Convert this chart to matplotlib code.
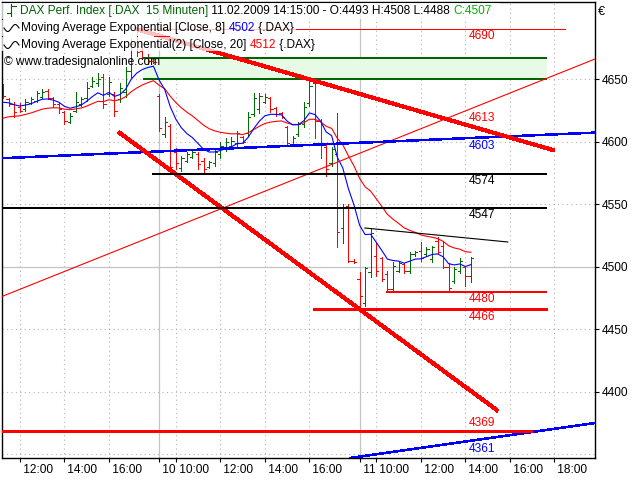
import numpy as np
import matplotlib
matplotlib.use("Agg")
import matplotlib.pyplot as plt
from matplotlib.lines import Line2D
from matplotlib.patches import Rectangle
from matplotlib.text import Annotation

plt.rcParams['font.family'] = ['Liberation Sans', 'DejaVu Sans']

# x axis in session hours: 09.02. 09:00 = 0, one session = 9 h (09:00-18:00)
# 15 minute bars, first bar 09.02. 11:15, last bar 11.02. 14:15
first_bar = 2.25
bar_step = 0.25

opens = [4645, 4634, 4630, 4628, 4626, 4631, 4633, 4636, 4641, 4635, 4630, 4624, 4616, 4625,
         4630, 4635, 4645, 4647, 4652, 4638, 4638, 4634, 4640, 4657, 4680, 4673, 4668, 4665,
         4637, 4606, 4613, 4592, 4579, 4585, 4588, 4590, 4585, 4580, 4583, 4590, 4596, 4597,
         4599, 4604, 4607, 4622, 4626, 4632, 4635, 4627, 4623, 4612, 4598, 4606, 4614, 4631,
         4647, 4617, 4596, 4583, 4590, 4531, 4549, 4505,
         4490, 4471, 4496, 4509, 4507, 4494, 4482, 4497, 4502, 4497, 4510, 4513, 4510, 4506,
         4521, 4517, 4500, 4489, 4497, 4500, 4493]
highs = [4646, 4635, 4632, 4631, 4634, 4636, 4641, 4642, 4642, 4636, 4631, 4625, 4623, 4640,
         4636, 4648, 4652, 4655, 4654, 4652, 4640, 4647, 4660, 4682, 4690, 4675, 4670, 4666,
         4638, 4620, 4614, 4595, 4589, 4592, 4594, 4592, 4587, 4585, 4595, 4600, 4603, 4604,
         4609, 4605, 4624, 4639, 4639, 4638, 4636, 4628, 4624, 4613, 4605, 4616, 4632, 4650,
         4650, 4618, 4599, 4596, 4623, 4550, 4550, 4506,
         4496, 4500, 4531, 4520, 4508, 4497, 4504, 4504, 4503, 4512, 4513, 4520, 4516, 4517,
         4524, 4521, 4503, 4500, 4507, 4501, 4508]
lows = [4635, 4629, 4620, 4624, 4625, 4630, 4632, 4635, 4634, 4628, 4623, 4614, 4615, 4624,
        4629, 4633, 4644, 4645, 4627, 4637, 4621, 4632, 4636, 4652, 4669, 4666, 4662, 4663,
        4609, 4604, 4578, 4578, 4577, 4584, 4587, 4578, 4574, 4579, 4581, 4587, 4593, 4596,
        4597, 4599, 4605, 4621, 4623, 4631, 4624, 4621, 4619, 4597, 4597, 4605, 4612, 4629,
        4603, 4587, 4573, 4581, 4516, 4519, 4504, 4503,
        4466, 4469, 4492, 4493, 4489, 4480, 4480, 4496, 4495, 4495, 4509, 4505, 4509, 4504,
        4511, 4499, 4480, 4487, 4495, 4485, 4488]
closes = [4637, 4630, 4624, 4625, 4632, 4634, 4639, 4640, 4635, 4630, 4626, 4617, 4621, 4632,
          4634, 4643, 4649, 4650, 4630, 4648, 4625, 4643, 4657, 4678, 4672, 4668, 4665, 4664,
          4611, 4616, 4580, 4583, 4587, 4590, 4592, 4582, 4578, 4584, 4592, 4597, 4600, 4601,
          4607, 4600, 4620, 4635, 4637, 4636, 4626, 4622, 4620, 4599, 4603, 4614, 4628, 4645,
          4617, 4598, 4578, 4594, 4528, 4548, 4505, 4504,
          4477, 4499, 4527, 4497, 4490, 4482, 4501, 4503, 4497, 4510, 4512, 4507, 4514, 4516,
          4512, 4500, 4483, 4498, 4505, 4493, 4507]

# EMA values just before the first visible bar
ema8_start = 4630
ema20_start = 4617

# x ticks
tick_pos = [3, 5, 7, 9.25, 10, 12, 14, 16, 18.25, 19, 21, 23, 25, 27]
tick_lab = ['12:00', '14:00', '16:00', '10', '10:00', '12:00', '14:00', '16:00',
            '11', '10:00', '12:00', '14:00', '16:00', '18:00']
day_starts = [9.25, 18.25]
y_ticks = [4400, 4450, 4500, 4550, 4600, 4650]
y_grid = [4350, 4400, 4450, 4550, 4600, 4650]

# drawing tools (time, price)
resist_box = [8.53, 26.66, 4650, 4667]
lvl_4690 = [8.26, 27.47, 4690]
lvl_4574 = [8.93, 26.66, 4574]
lvl_4547 = [2.0, 26.66, 4547]
lvl_4480 = [19.43, 26.66, 4480]
lvl_4466 = [16.15, 26.66, 4466]
lvl_4369 = [2.0, 25.98, 4369]
down_t, down_p = [8.26, 26.93], [4690, 4593.4]
down2_t, down2_p = [7.49, 24.41], [4607, 4385.4]
blue_t, blue_p = [2.155, 28.82], [4586.8, 4607.3]
up_t, up_p = [2.155, 28.82], [4475.9, 4666.2]
blue2_t, blue2_p = [17.82, 28.82], [4347, 4375]
black_t, black_p = [18.49, 24.91], [4531, 4519.8]

W, H = 640, 480
fig = plt.figure(figsize=(W / 100, H / 100), dpi=100)
ax = fig.add_axes([1.5 / W, 22 / H, 593.5 / W, 456 / H])
ax.set_xlim(2.178, 28.82)
ax.set_ylim(4347.0, 4711.8)

RED = '#ff0000'
GREEN = '#006e00'
BLUE = '#0000ff'
GRID = '#b4b4b4'
PX = 0.72   # one pixel, for the crisp (non antialiased) lines
THIN = 0.8

# grid
for tp in tick_pos:
    if tp in day_starts:
        ax.axvline(tp, color='#c4c4c4', lw=0.9, zorder=0.5)
    else:
        ax.axvline(tp, color=GRID, lw=THIN, ls=(0, (1, 3)), zorder=0.5)
for p in y_grid:
    ax.axhline(p, color=GRID, lw=THIN, ls=(0, (1, 3)), zorder=0.5)
ax.axhline(4500, color='#c4c4c4', lw=0.9, zorder=0.5)

# resistance zone
x0, x1, p0, p1 = resist_box
ax.add_patch(Rectangle((x0, p0), x1 - x0, p1 - p0, facecolor='#e6fae6', edgecolor='none', zorder=0.8))
ax.hlines([p0, p1], x0, x1, color='#006400', lw=1.1, zorder=3, antialiased=False)

# OHLC bars
o = np.array(opens, float)
hi = np.array(highs, float)
lo = np.array(lows, float)
c = np.array(closes, float)
t = first_bar + bar_step * np.arange(len(o))
cols = np.where(c >= o, GREEN, RED)
ax.vlines(t, lo, hi, colors=cols, lw=PX, zorder=2, antialiased=False)
ax.hlines(o, t - 0.1, t, colors=cols, lw=PX, zorder=2, antialiased=False)
ax.hlines(c, t, t + 0.1, colors=cols, lw=PX, zorder=2, antialiased=False)


def ema(values, period, start):
    k = 2.0 / (period + 1)
    out = []
    prev = start
    for v in values:
        prev = prev + k * (v - prev)
        out.append(prev)
    return np.array(out)


ax.plot(t, ema(c, 20, ema20_start), color=RED, lw=THIN, zorder=3)
ax.plot(t, ema(c, 8, ema8_start), color=BLUE, lw=THIN, zorder=3)

# lines
ax.plot(up_t, up_p, color=RED, lw=THIN, zorder=4)
ax.plot(blue_t, blue_p, color=BLUE, lw=1.1, zorder=4, antialiased=False)
ax.plot(blue2_t, blue2_p, color=BLUE, lw=1.1, zorder=4, antialiased=False)
ax.plot(black_t, black_p, color='black', lw=THIN, zorder=4)
ax.plot(down_t, down_p, color=RED, lw=2.2, zorder=4, antialiased=False)
ax.plot(down2_t, down2_p, color=RED, lw=2.2, zorder=4, antialiased=False)
for lv, lw_, col in [(lvl_4690, PX, RED), (lvl_4574, 1.1, 'black'), (lvl_4547, 1.1, 'black'),
                     (lvl_4480, 1.4, RED), (lvl_4466, 2.1, RED), (lvl_4369, 2.1, RED)]:
    ax.hlines(lv[2], lv[0], lv[1], color=col, lw=lw_, zorder=4, antialiased=False)

# value labels at the last bar
t_lab = t[-1] - 0.08
labels = [('4690', lvl_4690[2], -7, RED),
          ('4613', np.interp(t_lab, down_t, down_p), 8, RED),
          ('4603', np.interp(t_lab, blue_t, blue_p), -8, BLUE),
          ('4574', lvl_4574[2], -7, 'black'),
          ('4547', lvl_4547[2], -7, 'black'),
          ('4480', lvl_4480[2], -7, RED),
          ('4466', lvl_4466[2], -8, RED),
          ('4369', lvl_4369[2], 7, RED),
          ('4361', np.interp(t_lab, blue2_t, blue2_p), -8, BLUE)]
for s, p, dy, col in labels:
    ax.annotate(s, xy=(t_lab, p), xytext=(0, dy), textcoords='offset pixels',
                ha='left', va='center', color=col, fontsize=8.6, zorder=5)

# axes styling
for sp in ax.spines.values():
    sp.set_linewidth(1.0)
    sp.set_color('black')
ax.yaxis.tick_right()
ax.set_yticks(y_ticks)
ax.set_yticklabels([str(v) for v in y_ticks])
ax.set_xticks(tick_pos)
ax.set_xticklabels([' ' + s for s in tick_lab])
for lab in ax.get_xticklabels():
    lab.set_ha('left')
ax.tick_params(axis='y', length=3, width=0.8, pad=2, labelsize=8.6)
ax.tick_params(axis='x', length=3, width=0.8, pad=1.5, labelsize=8.6)
fig.text(598 / W, 1 - 12 / H, '€', fontsize=9, va='center', ha='left')

# header / legend
FS = 8.6


def px(x, y):
    return x / W, 1 - y / H


for x_r, y0, y1 in [(500, 3, 19), (296, 20, 36), (318, 37, 51)]:
    fig.add_artist(Rectangle(px(0, y1), x_r / W, (y1 - y0) / H, transform=fig.transFigure,
                             facecolor='white', edgecolor='none', alpha=0.75, zorder=5))


def legend_line(x, y, parts):
    txt = fig.text(*px(x, y), parts[0][0], color=parts[0][1], fontsize=FS,
                   va='center', ha='left', zorder=6)
    for s, col in parts[1:]:
        txt = fig.add_artist(Annotation(s, xy=(1, 0), xycoords=txt, va='bottom', ha='left',
                                        color=col, fontsize=FS, zorder=6))


legend_line(20, 11, [('DAX Perf. Index [.DAX  15 Minuten]', '#006400'),
                     (' 11.02.2009 14:15:00 - O:4493 H:4508 L:4488 ', 'black'),
                     ('C:4507', '#00b400')])
legend_line(21, 28, [('Moving Average Exponential [Close, 8] ', 'black'), ('4502', BLUE),
                     (' {.DAX}', 'black')])
legend_line(21, 45, [('Moving Average Exponential(2) [Close, 20] ', 'black'), ('4512', RED),
                     (' {.DAX}', 'black')])
legend_line(4, 62, [('© www.tradesignalonline.com', 'black')])

# small sine icons in front of the indicator names
wave_x = np.linspace(4, 19, 40)
for yy in (28, 45):
    wave_y = yy + 3.5 * np.sin((wave_x - 4) / 15 * 2 * np.pi)
    fig.add_artist(Line2D(wave_x / W, 1 - wave_y / H, color='black', lw=0.8,
                          transform=fig.transFigure, zorder=6))

# bar icon in front of the instrument name
fig.add_artist(Line2D([11 / W, 11 / W], [1 - 16 / H, 1 - 4 / H], color='#006400', lw=0.8,
                      transform=fig.transFigure, zorder=6))
fig.add_artist(Line2D([7 / W, 11 / W], [1 - 13 / H, 1 - 13 / H], color='#006400', lw=0.8,
                      transform=fig.transFigure, zorder=6))
fig.add_artist(Line2D([11 / W, 16 / W], [1 - 6 / H, 1 - 6 / H], color='#006400', lw=0.8,
                      transform=fig.transFigure, zorder=6))

fig.savefig('out.png', dpi=100)
